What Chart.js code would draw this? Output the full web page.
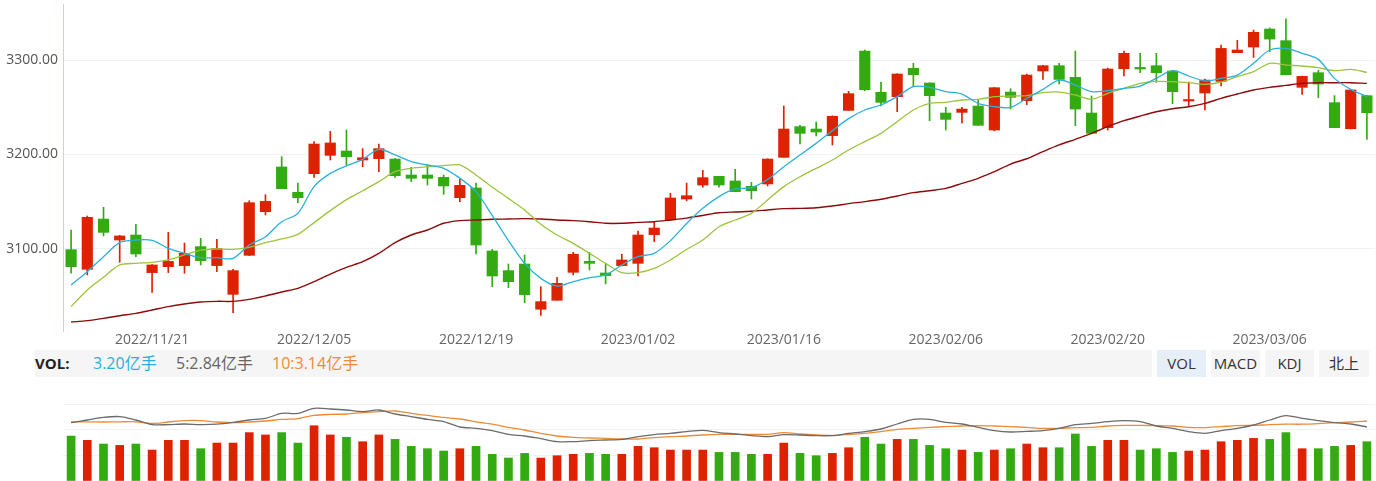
<!DOCTYPE html>
<html><head><meta charset="utf-8">
<script src="https://cdn.jsdelivr.net/npm/chart.js@4.4.0/dist/chart.umd.min.js"></script>
<style>
html,body{margin:0;padding:0;background:#fff;width:1376px;height:481px;overflow:hidden;font-family:'Open Sans','Noto Sans CJK SC',sans-serif;}
#main{position:absolute;left:0;top:0;}
#vol{position:absolute;left:0;top:395px;}
.info{position:absolute;left:35px;top:350px;width:1117px;height:27px;background:#f5f5f5;}
.info span{position:absolute;top:0;line-height:27px;font-size:16px;white-space:nowrap;font-family:'Open Sans','Noto Sans CJK SC',sans-serif;}
.btn{position:absolute;top:350px;height:27px;line-height:27px;text-align:center;font-size:15px;color:#333;background:#f5f5f5;font-family:'Open Sans','Noto Sans CJK SC',sans-serif;}
</style>
</head><body>
<canvas id="main" width="1376" height="350"></canvas>
<div class="info">
  <span id="lblVol" style="left:0;font-weight:bold;font-size:15px;color:#222;">VOL:</span>
  <span id="lblCur" style="left:58px;color:#2aafd9;"></span>
  <span id="lblM5" style="left:141px;color:#666;"></span>
  <span id="lblM10" style="left:237px;color:#ef8a36;"></span>
</div>
<div class="btn" style="left:1157px;width:49px;background:#e6eef8;">VOL</div>
<div class="btn" style="left:1211px;width:49px;">MACD</div>
<div class="btn" style="left:1265px;width:49px;">KDJ</div>
<div class="btn" style="left:1319px;width:50px;">北上</div>
<canvas id="vol" width="1376" height="86"></canvas>
<script>
const dates = ['2022/11/14','2022/11/15','2022/11/16','2022/11/17','2022/11/18',
'2022/11/21','2022/11/22','2022/11/23','2022/11/24','2022/11/25',
'2022/11/28','2022/11/29','2022/11/30','2022/12/01','2022/12/02',
'2022/12/05','2022/12/06','2022/12/07','2022/12/08','2022/12/09',
'2022/12/12','2022/12/13','2022/12/14','2022/12/15','2022/12/16',
'2022/12/19','2022/12/20','2022/12/21','2022/12/22','2022/12/23',
'2022/12/26','2022/12/27','2022/12/28','2022/12/29','2022/12/30',
'2023/01/03','2023/01/04','2023/01/05','2023/01/06',
'2023/01/09','2023/01/10','2023/01/11','2023/01/12','2023/01/13',
'2023/01/16','2023/01/17','2023/01/18','2023/01/19','2023/01/20',
'2023/01/30','2023/01/31','2023/02/01','2023/02/02','2023/02/03',
'2023/02/06','2023/02/07','2023/02/08','2023/02/09','2023/02/10',
'2023/02/13','2023/02/14','2023/02/15','2023/02/16','2023/02/17',
'2023/02/20','2023/02/21','2023/02/22','2023/02/23','2023/02/24',
'2023/02/27','2023/02/28','2023/03/01','2023/03/02','2023/03/03',
'2023/03/06','2023/03/07','2023/03/08','2023/03/09','2023/03/10',
'2023/03/13','2023/03/14'];

const tickLabels = ['2022/11/21','2022/12/05','2022/12/19','2023/01/02','2023/01/16','2023/02/06','2023/02/20','2023/03/06'];
const yTicks = [3100, 3200, 3300];

const open = [3099.3,3078.5,3131.7,3109.5,3114.8,3075.0,3081.3,3082.4,3102.5,3082.4,
3052.0,3093.3,3139.5,3186.8,3160.0,3179.7,3199.1,3203.7,3194.2,3195.6,
3195.2,3178.3,3178.3,3175.8,3154.3,3164.6,3097.9,3077.1,3084.1,3036.2,
3045.7,3075.3,3086.9,3074.6,3082.4,3084.8,3115.2,3130.7,3152.9,3167.7,
3176.9,3172.0,3166.3,3168.8,3197.0,3229.5,3227.0,3220.0,3246.7,3309.5,
3265.8,3261.2,3291.2,3275.7,3243.9,3244.6,3251.3,3225.9,3266.1,3257.0,
3288.4,3294.0,3281.7,3243.9,3228.4,3290.8,3292.2,3294.0,3288.4,3256.6,
3265.1,3277.4,3307.8,3313.8,3332.8,3320.5,3271.1,3286.6,3254.9,3227.3,3262.3];
const high = [3120.1,3134.9,3144.1,3114.5,3126.1,3083.5,3117.6,3106.3,3111.3,3110.2,
3078.5,3151.1,3157.5,3197.7,3169.8,3213.6,3224.5,3225.9,3206.2,3211.1,
3196.0,3186.4,3188.9,3178.3,3173.7,3169.8,3099.6,3084.1,3093.7,3060.1,
3070.0,3096.5,3096.5,3083.8,3094.4,3119.0,3128.9,3158.9,3169.8,3183.2,
3177.0,3184.3,3170.5,3195.5,3251.3,3230.9,3234.4,3241.0,3266.8,3310.6,
3276.7,3285.5,3296.5,3276.0,3249.9,3249.9,3257.7,3271.0,3269.7,3285.2,
3294.5,3296.5,3309.5,3261.9,3291.5,3309.5,3307.1,3307.1,3288.5,3276.7,
3279.9,3315.9,3320.8,3331.7,3333.9,3343.7,3283.0,3289.1,3262.3,3268.5,3262.5];
const low = [3074.3,3072.5,3113.8,3085.9,3091.9,3054.1,3075.0,3074.3,3083.1,3076.0,
3032.6,3093.0,3136.0,3163.8,3149.0,3175.8,3194.2,3188.9,3187.1,3181.8,
3175.8,3171.3,3167.7,3157.8,3150.1,3094.7,3060.1,3059.1,3043.2,3029.8,
3045.7,3072.5,3077.8,3063.0,3082.0,3071.4,3107.8,3130.7,3150.8,3165.3,
3165.3,3160.7,3152.9,3166.7,3197.0,3211.1,3219.6,3210.1,3246.7,3267.5,
3251.3,3245.3,3272.5,3235.8,3225.9,3233.3,3230.9,3225.0,3248.1,3252.7,
3279.5,3274.6,3230.5,3222.0,3225.9,3283.1,3286.6,3276.4,3253.8,3250.6,
3247.1,3272.5,3307.8,3302.8,3308.8,3284.5,3263.7,3260.1,3228.4,3227.0,3216.0];
const close = [3081.3,3133.5,3117.6,3113.8,3094.7,3083.1,3086.9,3095.4,3087.7,3100.4,
3077.1,3149.0,3150.4,3163.8,3154.3,3211.1,3212.2,3197.7,3196.6,3206.2,
3177.6,3174.8,3174.8,3166.7,3167.4,3104.2,3071.4,3065.4,3051.7,3044.3,
3063.7,3094.4,3084.8,3071.8,3088.4,3114.8,3122.2,3154.0,3156.4,3175.5,
3167.7,3160.7,3161.7,3195.2,3227.0,3222.4,3223.8,3240.4,3264.4,3268.6,
3255.2,3285.2,3284.5,3262.3,3237.2,3248.1,3230.9,3270.7,3260.5,3284.1,
3294.0,3279.5,3248.1,3222.4,3290.5,3307.1,3290.5,3286.6,3266.5,3258.0,
3278.8,3312.3,3310.6,3329.3,3322.2,3284.5,3282.7,3274.6,3228.4,3268.3,3244.3];

const ma5 = [3061.9,3076.0,3091.9,3106.7,3109.5,3109.2,3100.7,3095.4,3090.8,3090.8,
3090.1,3104.2,3113.0,3128.9,3137.7,3166.0,3180.0,3188.0,3194.9,3205.5,
3199.5,3192.5,3188.9,3185.4,3175.0,3160.7,3135.5,3108.8,3084.8,3068.9,
3060.8,3065.4,3069.7,3072.5,3083.1,3091.9,3095.4,3108.8,3127.0,3143.0,
3155.4,3163.5,3164.9,3173.5,3187.1,3199.5,3211.8,3225.2,3238.0,3247.1,
3252.4,3261.2,3271.8,3271.1,3266.5,3264.0,3254.1,3250.6,3249.9,3259.4,
3269.0,3278.8,3273.5,3266.5,3267.5,3270.0,3272.5,3280.6,3288.7,3283.1,
3277.8,3280.6,3284.1,3296.5,3310.6,3312.3,3307.1,3300.7,3280.6,3269.0,3261.2];
const ma10 = [3039.0,3056.6,3070.0,3083.1,3084.8,3085.9,3088.4,3093.7,3098.9,3100.0,
3099.6,3101.8,3106.7,3110.6,3115.5,3127.9,3140.6,3152.2,3161.7,3171.3,
3181.8,3185.4,3187.1,3188.2,3188.9,3178.3,3165.3,3153.6,3141.3,3126.1,
3114.8,3106.0,3095.4,3084.8,3075.0,3075.0,3079.5,3088.4,3099.5,3109.5,
3123.6,3130.7,3137.7,3151.9,3166.0,3176.5,3185.4,3194.2,3204.8,3213.6,
3222.4,3234.7,3247.1,3254.1,3255.2,3257.7,3258.4,3261.2,3261.9,3262.3,
3265.4,3266.1,3263.0,3258.4,3264.7,3270.0,3275.3,3277.4,3277.1,3276.0,
3274.3,3276.7,3282.4,3287.7,3296.5,3294.7,3293.7,3291.9,3288.7,3290.1,3287.0];
const maLong = [3022.7,3024.2,3026.6,3029.4,3031.9,3035.4,3039.0,3041.8,3043.9,3044.6,
3044.6,3046.7,3050.3,3054.5,3058.4,3065.4,3073.5,3080.5,3086.6,3095.4,
3106.7,3114.8,3120.1,3127.2,3130.0,3130.7,3131.4,3131.7,3132.1,3131.7,
3130.7,3130.0,3128.9,3127.2,3127.2,3128.2,3128.9,3130.7,3132.7,3135.5,
3138.3,3139.2,3139.9,3141.3,3142.7,3143.0,3143.7,3145.5,3148.0,3150.1,
3152.6,3156.1,3159.6,3161.7,3164.2,3169.5,3174.8,3181.8,3189.9,3195.5,
3203.0,3210.1,3216.1,3222.4,3229.5,3235.8,3240.7,3245.3,3248.5,3250.6,
3254.1,3259.4,3264.0,3268.3,3271.1,3273.2,3275.3,3276.0,3276.0,3276.0,3275.3];

const vol = [3.66,3.31,3.01,2.90,3.01,2.52,3.31,3.31,2.63,3.09,
3.09,3.94,3.75,3.94,3.09,4.50,3.75,3.56,3.20,3.75,
3.39,2.82,2.63,2.44,2.63,2.82,2.17,1.87,2.25,1.87,
2.06,2.17,2.25,2.17,2.17,2.82,2.71,2.52,2.52,2.52,
2.33,2.33,2.17,2.17,3.09,2.25,2.06,2.25,2.71,3.56,
3.01,3.39,3.39,2.90,2.63,2.52,2.33,2.52,2.63,3.01,
2.71,2.71,3.83,2.82,3.31,3.31,2.52,2.63,2.33,2.44,
2.52,3.20,3.31,3.47,3.39,3.94,2.63,2.63,2.82,2.90,3.20];
const volMa5 = [3.06,3.19,3.32,3.36,3.19,2.96,2.96,2.99,2.96,2.98,
3.07,3.19,3.27,3.52,3.52,3.77,3.74,3.69,3.61,3.69,
3.49,3.36,3.22,3.11,2.84,2.77,2.66,2.47,2.39,2.26,
2.11,2.11,2.16,2.19,2.22,2.36,2.46,2.52,2.61,2.67,
2.56,2.49,2.41,2.36,2.46,2.44,2.41,2.41,2.52,2.61,
2.74,2.99,3.22,3.22,3.07,2.99,2.82,2.66,2.59,2.62,
2.66,2.77,2.96,3.02,3.11,3.16,3.11,2.89,2.77,2.61,
2.52,2.66,2.77,2.94,3.19,3.41,3.27,3.16,3.06,2.99,2.84];
const volMa10 = [3.09,3.10,3.09,3.10,3.10,3.02,3.09,3.16,3.16,3.09,
3.06,3.09,3.14,3.22,3.26,3.42,3.47,3.49,3.56,3.61,
3.64,3.52,3.42,3.32,3.24,3.10,2.98,2.82,2.69,2.52,
2.39,2.32,2.29,2.27,2.24,2.24,2.31,2.36,2.39,2.44,
2.47,2.47,2.47,2.47,2.56,2.49,2.44,2.42,2.46,2.52,
2.61,2.72,2.77,2.82,2.86,2.89,2.91,2.89,2.86,2.82,
2.77,2.77,2.81,2.82,2.89,2.92,2.92,2.91,2.89,2.82,
2.81,2.86,2.91,2.92,2.96,2.98,2.98,3.01,3.06,3.09,3.14];

const UP = '#dd2200', DOWN = '#33a912';
const colors = close.map((c, i) => c >= open[i] ? UP : DOWN);

Chart.defaults.font.family = "'Open Sans','Noto Sans CJK SC',sans-serif";
Chart.defaults.animation = false;

// tick label index: first trading day on/after each tick label
const tickIdx = {};
tickLabels.forEach(t => { const i = dates.findIndex(d => d >= t); if (i >= 0) tickIdx[i] = t; });

new Chart(document.getElementById('main'), {
  data: {
    labels: dates,
    datasets: [
      {type:'line', data: ma5, borderColor:'#2bb1d9', borderWidth:1.3, pointRadius:0, tension:0.3, order:0},
      {type:'line', data: ma10, borderColor:'#9cc43c', borderWidth:1.3, pointRadius:0, tension:0.3, order:0},
      {type:'line', data: maLong, borderColor:'#8e0a0a', borderWidth:1.4, pointRadius:0, tension:0.3, order:0},
      {type:'bar', data: low.map((l, i) => [l, high[i]]), backgroundColor: colors, barThickness:1, grouped:false, order:2},
      {type:'bar', data: open.map((o, i) => [o, close[i]]), backgroundColor: colors, barThickness:10.5, minBarLength:1.5, grouped:false, order:1}
    ]
  },
  options: {
    responsive:false,
    layout:{padding:{top:4, right:1, left:0, bottom:0}},
    plugins:{legend:{display:false}, tooltip:{enabled:false}},
    scales:{
      x:{
        grid:{display:false, drawTicks:false, tickLength:0}, border:{display:false},
        ticks:{autoSkip:false, maxRotation:0, padding:1, color:'#666', font:{size:14},
          callback:(v, i) => tickIdx[i] || ''},
        afterFit:(s) => { s.height = 19; s.paddingLeft = 0; s.paddingRight = 0; }
      },
      y:{
        min:3013.2, max:3359.3,
        grid:{color:'#eef2f5', drawTicks:false},
        border:{color:'#c9d3e6'},
        afterBuildTicks:(s) => { s.ticks = yTicks.map(v => ({value:v})); },
        ticks:{padding:5, color:'#555', font:{size:14}, callback:(v) => Number(v).toFixed(2)},
        afterFit:(s) => { s.width = 63; s.paddingTop = 0; s.paddingBottom = 0; }
      }
    }
  }
});

new Chart(document.getElementById('vol'), {
  data: {
    labels: dates,
    datasets: [
      {type:'line', yAxisID:'y2', data: volMa5, borderColor:'#6b6b6b', borderWidth:1.3, pointRadius:0, tension:0.3, order:0},
      {type:'line', yAxisID:'y2', data: volMa10, borderColor:'#ef8a36', borderWidth:1.3, pointRadius:0, tension:0.3, order:0},
      {type:'bar', yAxisID:'y', data: vol, backgroundColor: colors, barThickness:8, order:1}
    ]
  },
  options: {
    responsive:false,
    layout:{padding:{top:9, right:1, left:63, bottom:0}},
    plugins:{legend:{display:false}, tooltip:{enabled:false}},
    scales:{
      x:{display:false},
      y:{
        min:0, max:6.27,
        grid:{color:'#eef1f6', drawTicks:false},
        border:{display:false},
        ticks:{display:false},
        afterBuildTicks:(s) => { s.ticks = [0, 1, 2, 3].map(k => ({value: k * 6.27 / 3})); },
        afterFit:(s) => { s.width = 0; s.paddingTop = 0; s.paddingBottom = 0; }
      },
      y2:{min:0.14, max:3.99, display:false}
    }
  }
});

const last = vol.length - 1;
document.getElementById('lblCur').textContent = vol[last].toFixed(2) + '亿手';
document.getElementById('lblM5').textContent = '5:' + volMa5[last].toFixed(2) + '亿手';
document.getElementById('lblM10').textContent = '10:' + volMa10[last].toFixed(2) + '亿手';
</script>
</body></html>
